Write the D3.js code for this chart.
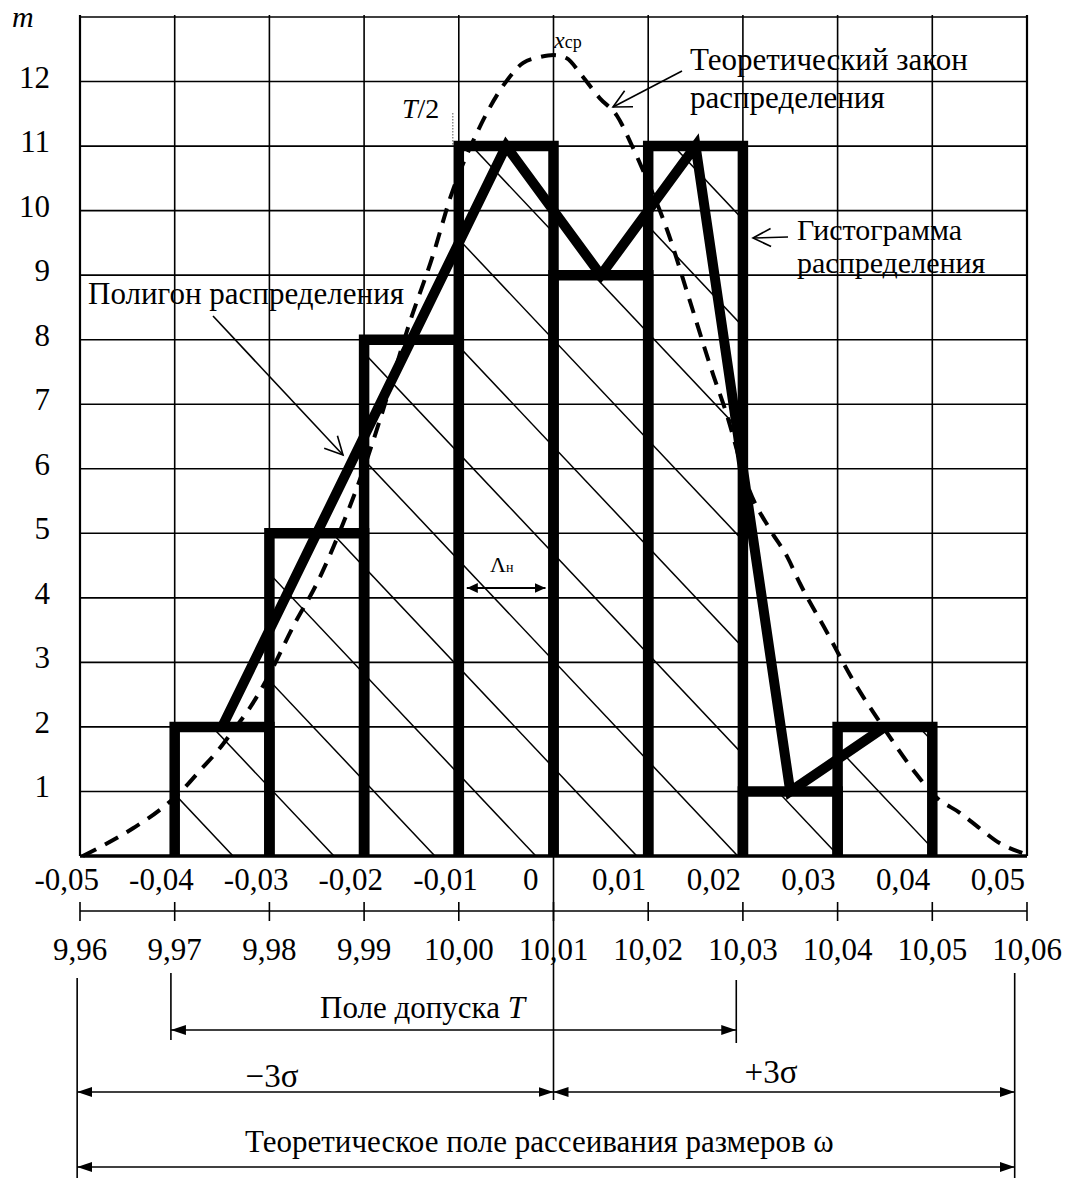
<!DOCTYPE html>
<html>
<head>
<meta charset="utf-8">
<script src="https://cdnjs.cloudflare.com/ajax/libs/d3/7.8.5/d3.min.js"></script>
<style>
  body { margin: 0; background: #fff; }
  svg text { font-family: "Liberation Serif", "Tinos", "DejaVu Serif", "Noto Serif", "Times New Roman", Times, serif; fill: #000; }
</style>
</head>
<body>
<svg id="chart" width="1067" height="1178"></svg>
<script>
// deviations from nominal size (top axis) and sizes (bottom ruler)
const devTicks = [-0.05, -0.04, -0.03, -0.02, -0.01, 0, 0.01, 0.02, 0.03, 0.04, 0.05];
const sizeTicks = [9.96, 9.97, 9.98, 9.99, 10.00, 10.01, 10.02, 10.03, 10.04, 10.05, 10.06];
const mTicks = [1, 2, 3, 4, 5, 6, 7, 8, 9, 10, 11, 12];

// histogram: bin starts (width 0.01) and counts m
const binStarts = [-0.04, -0.03, -0.02, -0.01, 0, 0.01, 0.02, 0.03];
const binWidth = 0.01;
const counts = [2, 5, 8, 11, 9, 11, 1, 2];

// theoretical curve
const curveDev = [-0.0497, -0.0444, -0.0416, -0.0394, -0.0373, -0.0354, -0.0338, -0.0320, -0.0303,
  -0.0273, -0.0250, -0.0222, -0.0202, -0.0183, -0.0152, -0.0127, -0.0109, -0.0081, -0.0051,
  -0.0032, -0.0014, 0.0, 0.0014, 0.0028, 0.0049, 0.0067, 0.0084, 0.0099, 0.0120, 0.0144,
  0.0169, 0.0181, 0.0207, 0.0229, 0.0247, 0.0260, 0.0289, 0.0316, 0.0348, 0.0380, 0.0405,
  0.0429, 0.0450, 0.0471, 0.0495];
const curveM = [0.0, 0.43, 0.71, 0.99, 1.33, 1.64, 1.95, 2.31, 2.73,
  3.61, 4.22, 5.16, 5.93, 6.77, 8.26, 9.32, 10.20, 11.20, 11.98,
  12.29, 12.38, 12.41, 12.36, 12.13, 11.74, 11.47, 10.97, 10.47, 9.70, 8.60,
  7.44, 6.93, 5.66, 5.05, 4.63, 4.23, 3.46, 2.73, 2.00, 1.33, 0.90,
  0.67, 0.43, 0.20, 0.05];

// dimension lines (sizes)
const tolerance = [9.9696, 10.0293];
const scatterField = [9.9597, 10.0587];
const meanSize = 10.01;

const svg = d3.select('#chart');

const x = d3.scaleLinear().domain([-0.05, 0.05]).range([80, 1027]);
const xs = d3.scaleLinear().domain([9.96, 10.06]).range([80, 1027]);
const y = d3.scaleLinear().domain([0, 13]).range([856, 17]);

const fmt = d => d === 0 ? '0' : d.toFixed(2).replace('.', ',');

// markers
const defs = svg.append('defs');
defs.append('marker')
  .attr('id', 'tri')
  .attr('viewBox', '0 0 15 10')
  .attr('refX', 15).attr('refY', 5)
  .attr('markerWidth', 15).attr('markerHeight', 10)
  .attr('markerUnits', 'userSpaceOnUse')
  .attr('orient', 'auto-start-reverse')
  .append('path').attr('d', 'M0,0 L15,5 L0,10 Z');
defs.append('marker')
  .attr('id', 'tri-s')
  .attr('viewBox', '0 0 11 10')
  .attr('refX', 11).attr('refY', 5)
  .attr('markerWidth', 11).attr('markerHeight', 10)
  .attr('markerUnits', 'userSpaceOnUse')
  .attr('orient', 'auto-start-reverse')
  .append('path').attr('d', 'M0,0 L11,5 L0,10 Z');

// clip for hatching = union of bars
const clip = defs.append('clipPath').attr('id', 'bars-clip');
clip.selectAll('rect')
  .data(binStarts)
  .enter()
  .append('rect')
  .attr('x', d => x(d))
  .attr('y', (d, i) => y(counts[i]))
  .attr('width', x(binWidth) - x(0))
  .attr('height', (d, i) => y(0) - y(counts[i]));

// grid
const grid = svg.append('g').attr('stroke', '#000').attr('stroke-width', 1.6);
grid.selectAll('line.h')
  .data(mTicks.concat([13]))
  .enter()
  .append('line')
  .classed('h', true)
  .attr('x1', x(-0.05)).attr('x2', x(0.05))
  .attr('y1', d => y(d)).attr('y2', d => y(d));
grid.selectAll('line.v')
  .data(devTicks)
  .enter()
  .append('line')
  .classed('v', true)
  .attr('x1', d => x(d)).attr('x2', d => x(d))
  .attr('y1', y(13) - 2).attr('y2', y(0))
  .attr('stroke-width', (d, i) => (i === 0 || i === devTicks.length - 1) ? 2.2 : 1.6);

// hatching
const hatch = svg.append('g')
  .attr('clip-path', 'url(#bars-clip)')
  .attr('stroke', '#000').attr('stroke-width', 1.5);
const slope = 1.06;
const hatchOffsets = d3.range(-33 - 107 * 12, 1100, 107);
hatch.selectAll('line')
  .data(hatchOffsets)
  .enter()
  .append('line')
  .attr('x1', x(-0.05)).attr('y1', c => slope * x(-0.05) + c)
  .attr('x2', x(0.05)).attr('y2', c => slope * x(0.05) + c);

// x axis line
svg.append('line')
  .attr('x1', x(-0.05)).attr('x2', x(0.05))
  .attr('y1', y(0)).attr('y2', y(0))
  .attr('stroke', '#000').attr('stroke-width', 3.5);

// T/2 dotted marker
svg.append('line')
  .attr('x1', x(-0.01) - 6).attr('x2', x(-0.01) - 6)
  .attr('y1', 113).attr('y2', y(11))
  .attr('stroke', '#777').attr('stroke-width', 1.2)
  .attr('stroke-dasharray', '1.5,1.5');

// histogram bars (open at the bottom)
svg.append('g')
  .selectAll('path')
  .data(binStarts)
  .enter()
  .append('path')
  .attr('d', (d, i) => `M${x(d)},${y(0)} V${y(counts[i])} H${x(d + binWidth)} V${y(0)}`)
  .attr('fill', 'none')
  .attr('stroke', '#000')
  .attr('stroke-width', 10.5);

// frequency polygon through bin midpoints
const polyLine = d3.line()
  .x(d => x(d + binWidth / 2))
  .y((d, i) => y(counts[i]));
svg.append('path')
  .attr('d', polyLine(binStarts))
  .attr('fill', 'none')
  .attr('stroke', '#000')
  .attr('stroke-width', 10)
  .attr('stroke-linejoin', 'miter');

// theoretical curve
const curveLine = d3.line()
  .x(d => x(d))
  .y((d, i) => y(curveM[i]))
  .curve(d3.curveMonotoneX);
svg.append('path')
  .attr('d', curveLine(curveDev))
  .attr('fill', 'none')
  .attr('stroke', '#000')
  .attr('stroke-width', 4)
  .attr('stroke-dasharray', '15,10');

// y labels
svg.append('g')
  .selectAll('text')
  .data(mTicks)
  .enter()
  .append('text')
  .attr('x', 50)
  .attr('y', d => y(d) + 6)
  .attr('text-anchor', 'end')
  .attr('font-size', 31)
  .text(d => d);
svg.append('text')
  .attr('x', 12).attr('y', 27)
  .attr('font-size', 30)
  .attr('font-style', 'italic')
  .text('m');

// top axis labels (deviations)
svg.append('g')
  .selectAll('text')
  .data(devTicks)
  .enter()
  .append('text')
  .attr('x', d => x(d) + (d < 0 ? 19 : d === 0 ? -15 : -2))
  .attr('y', 890)
  .attr('text-anchor', 'end')
  .attr('font-size', 31)
  .text(fmt);

// bottom ruler (sizes)
const ruler = svg.append('g').attr('stroke', '#000').attr('stroke-width', 1.6);
ruler.append('line')
  .attr('x1', xs(9.96)).attr('x2', xs(10.06))
  .attr('y1', 911).attr('y2', 911);
ruler.selectAll('line.t')
  .data(sizeTicks)
  .enter()
  .append('line')
  .classed('t', true)
  .attr('x1', d => xs(d)).attr('x2', d => xs(d))
  .attr('y1', 902).attr('y2', 921);
svg.append('g')
  .selectAll('text')
  .data(sizeTicks)
  .enter()
  .append('text')
  .attr('x', d => xs(d))
  .attr('y', 960)
  .attr('text-anchor', 'middle')
  .attr('font-size', 31)
  .text(d => d.toFixed(2).replace('.', ','));

// dimension lines
const dim = svg.append('g').attr('stroke', '#000').attr('stroke-width', 1.6);
// centre line
dim.append('line')
  .attr('x1', xs(meanSize)).attr('x2', xs(meanSize))
  .attr('y1', y(0)).attr('y2', 1100);
// extension lines
dim.append('line').attr('x1', xs(tolerance[0])).attr('x2', xs(tolerance[0])).attr('y1', 973).attr('y2', 1040);
dim.append('line').attr('x1', xs(tolerance[1])).attr('x2', xs(tolerance[1])).attr('y1', 980).attr('y2', 1043);
dim.append('line').attr('x1', xs(scatterField[0])).attr('x2', xs(scatterField[0])).attr('y1', 978).attr('y2', 1178);
dim.append('line').attr('x1', xs(scatterField[1])).attr('x2', xs(scatterField[1])).attr('y1', 973).attr('y2', 1178);
// arrows
dim.append('line')
  .attr('x1', xs(tolerance[0])).attr('x2', xs(tolerance[1]))
  .attr('y1', 1030).attr('y2', 1030)
  .attr('marker-start', 'url(#tri)').attr('marker-end', 'url(#tri)');
dim.append('line')
  .attr('x1', xs(scatterField[0])).attr('x2', xs(meanSize))
  .attr('y1', 1092).attr('y2', 1092)
  .attr('marker-start', 'url(#tri)').attr('marker-end', 'url(#tri)');
dim.append('line')
  .attr('x1', xs(meanSize)).attr('x2', xs(scatterField[1]))
  .attr('y1', 1092).attr('y2', 1092)
  .attr('marker-start', 'url(#tri)').attr('marker-end', 'url(#tri)');
dim.append('line')
  .attr('x1', xs(scatterField[0])).attr('x2', xs(scatterField[1]))
  .attr('y1', 1167).attr('y2', 1167)
  .attr('marker-start', 'url(#tri)').attr('marker-end', 'url(#tri)');

const tol = svg.append('text').attr('x', 320).attr('y', 1018).attr('font-size', 31);
tol.append('tspan').text('Поле допуска ');
tol.append('tspan').attr('font-style', 'italic').text('T');

svg.append('text').attr('x', 272).attr('y', 1087).attr('text-anchor', 'middle')
  .attr('font-size', 33).text('−3σ');
svg.append('text').attr('x', 771).attr('y', 1083).attr('text-anchor', 'middle')
  .attr('font-size', 33).text('+3σ');
svg.append('text').attr('x', 245).attr('y', 1152).attr('font-size', 31)
  .text('Теоретическое поле рассеивания размеров ω');

// annotations
function openArrow(x1, y1, x2, y2) {
  const a = Math.atan2(y1 - y2, x1 - x2);
  const len = 20, spread = 0.47;
  const g = svg.append('g').attr('stroke', '#000').attr('stroke-width', 1.6).attr('fill', 'none');
  g.append('line').attr('x1', x1).attr('y1', y1).attr('x2', x2).attr('y2', y2);
  g.append('path')
    .attr('d', `M${x2 + len * Math.cos(a + spread)},${y2 + len * Math.sin(a + spread)} L${x2},${y2} L${x2 + len * Math.cos(a - spread)},${y2 + len * Math.sin(a - spread)}`);
}

svg.append('text').attr('x', 690).attr('y', 70).attr('font-size', 31).text('Теоретический закон');
svg.append('text').attr('x', 690).attr('y', 108).attr('font-size', 31).text('распределения');
openArrow(682, 71, 613, 107);

svg.append('text').attr('x', 797).attr('y', 240).attr('font-size', 30).text('Гистограмма');
svg.append('text').attr('x', 797).attr('y', 273).attr('font-size', 30).text('распределения');
openArrow(788, 237, 753, 238);

svg.append('text').attr('x', 88).attr('y', 304).attr('font-size', 31).text('Полигон распределения');
openArrow(213, 316, 343, 455);

const t2 = svg.append('text').attr('x', 402).attr('y', 118).attr('font-size', 28);
t2.append('tspan').attr('font-style', 'italic').text('T');
t2.append('tspan').text('/2');

const xcp = svg.append('text').attr('x', 554).attr('y', 48);
xcp.append('tspan').attr('font-size', 24).attr('font-style', 'italic').text('x');
xcp.append('tspan').attr('font-size', 18).text('ср');

const lam = svg.append('text').attr('x', 490).attr('y', 572);
lam.append('tspan').attr('font-size', 22).text('Λ');
lam.append('tspan').attr('font-size', 14).text('н');
svg.append('line')
  .attr('x1', x(-0.01) + 8).attr('x2', x(0) - 8)
  .attr('y1', 588).attr('y2', 588)
  .attr('stroke', '#000').attr('stroke-width', 2)
  .attr('marker-start', 'url(#tri-s)').attr('marker-end', 'url(#tri-s)');
</script>
</body>
</html>
